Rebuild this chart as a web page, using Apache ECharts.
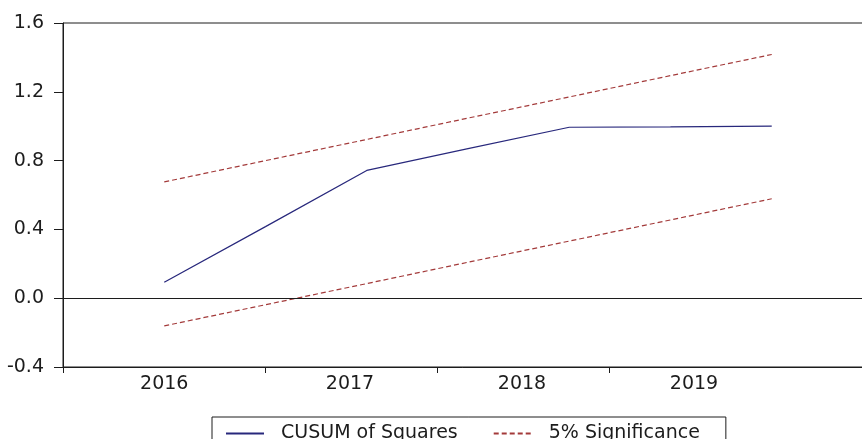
<!DOCTYPE html>
<html>
<head>
<meta charset="utf-8">
<script src="https://cdn.jsdelivr.net/npm/echarts@6/dist/echarts.min.js"></script>
<style>
  html, body { margin: 0; padding: 0; background: #fff; }
  #chart { width: 862px; height: 439px; }
</style>
</head>
<body>
<div id="chart"></div>
<script>
// Observation index of each recursive-residual point
const obsIndex = [0, 1, 2, 3, 4, 5, 6];
// CUSUM of squares statistic
const cusumSq = [0.093, 0.416, 0.743, 0.870, 0.994, 0.996, 1.000];
// 5% significance bounds
const upperBound = [0.676, 0.800, 0.923, 1.047, 1.170, 1.294, 1.417];
const lowerBound = [-0.161, -0.038, 0.085, 0.209, 0.332, 0.455, 0.578];
// Year axis labels and the year boundaries that carry ticks
const yearLabels = ['2016', '2017', '2018', '2019'];
const yearLabelAt = [2016.41, 2017.49, 2018.49, 2019.49];
const yearTicks = [2017, 2018, 2019];
const yTicks = [-0.4, 0.0, 0.4, 0.8, 1.2, 1.6];

const FONT = 'DejaVu Sans';
const INK = '#1c1c1c';
const NAVY = '#28287c';
const RED = '#a33a3a';

// calendar extent covered by the plot frame (the frame runs past the right edge)
const YEAR_MIN = 2015.8215;
const YEAR_MAX = 2020.5308;

const pairs = (ys) => obsIndex.map((x, i) => [x, ys[i]]);

const chart = echarts.init(document.getElementById('chart'), null, { renderer: 'canvas' });

chart.setOption({
  animation: false,
  backgroundColor: '#ffffff',
  grid: {
    left: 63, top: 23, width: 810, bottom: 72,
    outerBoundsMode: 'none',
    containLabel: false,
    show: true, borderColor: INK, borderWidth: 1, backgroundColor: 'transparent'
  },
  legend: {
    left: 212, top: 417,
    orient: 'horizontal',
    itemWidth: 38, itemHeight: 14, itemGap: 35,
    padding: [7, 26, 10, 13],
    borderColor: INK, borderWidth: 1, borderRadius: 0,
    backgroundColor: '#fff',
    // line-only keys: hide the marker drawn on top of each key line
    itemStyle: { opacity: 0 },
    textStyle: { fontFamily: FONT, fontSize: 19, color: INK, padding: [0, 0, 0, 12] },
    data: ['CUSUM of Squares', '5% Significance']
  },
  xAxis: [
    {
      // observation scale used to place the series
      type: 'value', min: -1, max: 7, show: false
    },
    {
      // calendar scale shown below the plot
      type: 'value', position: 'bottom',
      min: YEAR_MIN, max: YEAR_MAX,
      axisLine: { show: true, onZero: false, lineStyle: { color: INK, width: 1 } },
      axisTick: {
        show: true, length: 6, inside: false,
        customValues: [YEAR_MIN].concat(yearTicks),
        lineStyle: { color: INK, width: 1 }
      },
      axisLabel: {
        show: true, margin: 8,
        customValues: yearLabelAt,
        formatter: (v) => yearLabels[yearLabelAt.indexOf(v)] || '',
        fontFamily: FONT, fontSize: 19, color: INK
      },
      splitLine: { show: false }
    }
  ],
  yAxis: {
    type: 'value', min: yTicks[0], max: yTicks[yTicks.length - 1], interval: 0.4,
    axisLine: { show: true, onZero: false, lineStyle: { color: INK, width: 1 } },
    axisTick: { show: true, length: 9, inside: false, lineStyle: { color: INK, width: 1 } },
    axisLabel: {
      margin: 19, fontFamily: FONT, fontSize: 19, color: INK,
      formatter: (v) => v.toFixed(1)
    },
    splitLine: { show: false }
  },
  series: [
    {
      name: 'CUSUM of Squares', type: 'line', xAxisIndex: 0,
      data: pairs(cusumSq), symbol: 'none', z: 4,
      lineStyle: { color: NAVY, width: 1.2 },
      itemStyle: { color: NAVY },
      markLine: {
        silent: true, symbol: 'none', label: { show: false },
        lineStyle: { color: INK, width: 1, type: 'solid' },
        data: [{ yAxis: 0 }]
      }
    },
    {
      name: '5% Significance', type: 'line', xAxisIndex: 0,
      data: pairs(upperBound), symbol: 'none', z: 3,
      lineStyle: { color: RED, width: 1.2, type: [5, 3] },
      itemStyle: { color: RED }
    },
    {
      name: '5% Significance', type: 'line', xAxisIndex: 0,
      data: pairs(lowerBound), symbol: 'none', z: 3,
      lineStyle: { color: RED, width: 1.2, type: [5, 3] },
      itemStyle: { color: RED }
    }
  ]
});
</script>
</body>
</html>
